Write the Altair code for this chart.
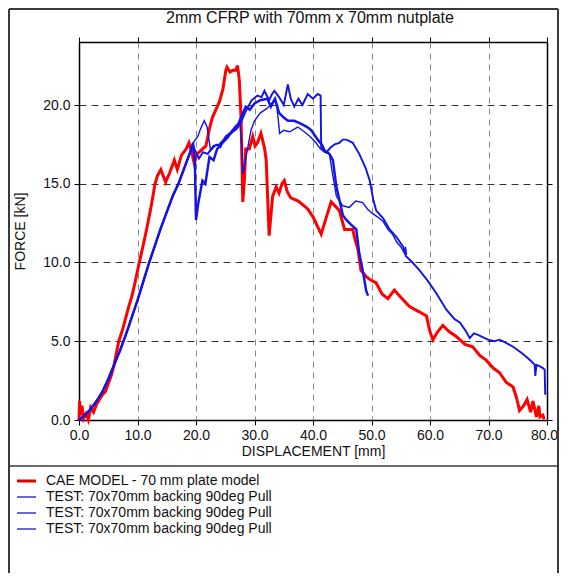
import altair as alt
import pandas as pd

# ---------------- data ----------------
cae_x = [0.0, 0.1, 0.3, 0.5, 0.8, 1.2, 1.6, 2.0, 2.5, 3.0, 3.5, 4.0, 4.5, 5.0, 5.5, 6.0, 6.8, 7.5, 8.0, 8.5,
         9.0, 9.5, 10.3, 10.8, 11.5, 12.3, 13.0, 13.4, 14.0, 14.8, 15.5, 16.3, 16.8, 17.5, 18.3, 18.8, 19.2, 19.7,
         20.2, 21.1, 21.7, 22.3, 22.8, 24.0, 24.6, 25.1, 25.3, 25.8, 26.3, 26.8, 27.1, 27.4, 27.7, 28.0, 28.3,
         28.5, 29.1, 29.7, 30.1, 30.5, 31.1, 31.7, 32.0, 32.5, 33.1, 33.7, 34.2, 34.7, 35.1, 35.6, 36.2, 37.5,
         39.1, 40.0, 41.4, 42.3, 43.1, 44.0, 44.5, 45.4, 46.8, 47.1, 47.7, 48.2, 49.1, 49.8, 50.8, 51.8, 52.8,
         53.9, 55.0, 56.5, 58.0, 59.4, 60.0, 60.5, 61.3, 62.2, 63.3, 64.5, 66.0, 67.3, 68.5, 69.6, 70.8, 71.9,
         73.0, 74.2, 74.8, 75.3, 76.0, 76.6, 77.2, 77.6, 78.2, 78.6, 78.8, 79.3, 79.5]
cae_y = [0.0, 1.2, 0.3, 0.9, 0.1, 0.4, 0.0, 0.8, 0.5, 1.0, 1.3, 1.6, 1.8, 2.3, 2.8, 3.5, 5.0, 5.8, 6.5, 7.2,
         7.8, 8.6, 10.0, 10.8, 12.0, 13.5, 15.0, 15.5, 15.9, 15.1, 15.7, 16.5, 15.9, 16.8, 17.2, 17.6, 17.1, 16.3,
         16.9, 17.2, 17.4, 18.5, 19.2, 20.2, 21.0, 22.2, 22.4, 22.1, 22.2, 22.2, 22.5, 21.6, 19.2, 13.85, 15.4,
         17.2, 17.2, 18.0, 17.4, 17.6, 18.2, 17.3, 16.5, 11.7, 14.2, 14.8, 14.4, 15.0, 15.2, 14.5, 14.1, 13.9,
         13.4, 12.9, 11.8, 12.9, 13.85, 13.5, 13.3, 12.1, 12.1, 11.6, 10.8, 9.5, 9.1, 8.9, 8.7, 8.0, 7.7,
         8.25, 7.8, 7.2, 6.9, 6.6, 5.6, 5.1, 5.6, 6.0, 5.6, 5.3, 4.8, 4.65, 4.1, 3.8, 3.3, 3.0,
         2.4, 2.1, 1.4, 0.6, 0.9, 1.3, 0.5, 1.2, 0.2, 0.9, 0.2, 0.3, 0.05]

t1_x = [0, 1, 2, 3, 4, 5, 6, 7, 8, 9, 10, 11, 12, 13, 14, 15, 16, 17, 18, 19,
        19.5, 19.8, 20.0, 20.4, 21.1, 21.6, 22.3, 23.0, 23.6, 24.5, 25.3, 26.3, 27.0, 27.7, 28.5, 29.2, 30.0,
        31.0, 32.2, 32.8, 33.5, 34.2, 35.0, 35.7, 36.8, 38.0, 39.0, 39.7, 40.8, 41.5, 42.0, 42.8, 43.4, 44.0,
        44.5, 45.1, 45.7, 46.5, 47.4, 47.9, 48.5, 49.1, 49.4]
t1_y = [0, 0.3, 0.7, 1.2, 1.8, 2.6, 3.5, 4.4, 5.4, 6.5, 7.6, 8.8, 10.0, 11.1, 12.2, 13.2, 14.2, 15.0, 16.0, 17.0,
        17.6, 16.5, 12.7, 13.8, 15.2, 15.0, 16.7, 16.5, 17.2, 17.6, 17.9, 18.4, 18.6, 19.2, 19.9, 19.7, 20.1,
        20.3, 20.4, 19.9, 20.4, 19.5, 19.2, 19.0, 19.0, 18.8, 18.6, 18.4, 17.8, 17.5, 17.1, 16.9, 16.5, 14.8,
        14.0, 13.0, 12.7, 12.4, 12.1, 10.6, 9.5, 8.2, 7.9]

t2_x = [0, 1, 2, 3, 4, 5, 6, 7, 8, 9, 10, 11, 12, 13, 14, 15, 16, 17, 18, 19,
        19.5, 20.5, 21.2, 22.0, 23.0, 24.0, 25.0, 26.0, 27.0, 27.7, 28.5, 29.5, 30.5, 31.2, 31.7, 32.5, 33.0,
        33.4, 34.2, 35.0, 35.7, 36.2, 36.8, 37.5, 38.2, 39.1, 40.0, 40.8, 41.3, 41.4, 42.3, 43.0, 43.7, 44.5,
        45.1, 45.7, 46.8, 47.9, 49.0, 49.7, 50.3, 50.8, 52.0, 53.1, 54.3, 55.4, 55.9, 57.0, 58.0, 59.5, 61.0,
        62.8, 64.2, 65.1, 66.2, 66.8, 67.5, 68.2, 69.9, 71.0, 71.9, 73.0, 74.2, 75.5, 76.5, 77.4, 77.9, 78.0,
        78.2, 78.8, 79.3, 79.6, 79.7]
t2_y = [0, 0.3, 0.7, 1.2, 1.8, 2.6, 3.5, 4.4, 5.4, 6.5, 7.6, 8.8, 10.0, 11.1, 12.2, 13.2, 14.2, 15.0, 16.0, 17.0,
        17.4, 16.6, 17.0, 16.9, 17.4, 17.5, 17.9, 18.2, 18.5, 18.9, 19.6, 20.3, 20.6, 20.5, 20.9, 20.3, 20.7,
        20.9, 20.5, 20.0, 21.3, 20.4, 19.9, 20.4, 20.0, 20.7, 20.4, 20.7, 20.6, 17.3, 17.0, 17.3, 17.5, 17.6,
        17.8, 17.8, 17.6, 16.9, 16.0, 15.2, 14.0, 13.3, 12.8, 12.1, 11.6, 11.0, 10.4, 10.0, 9.6, 8.9, 8.1,
        7.0, 6.4, 6.2, 5.6, 5.2, 5.5, 5.4, 5.1, 5.0, 5.1, 4.9, 4.65, 4.3, 4.0, 3.7, 3.5, 2.8,
        3.5, 3.4, 3.3, 3.2, 1.6]

t3_x = [0, 1, 2, 3, 4, 5, 6, 7, 8, 9, 10, 11, 12, 13, 14, 15, 16, 17, 18, 19,
        19.5, 20.3, 20.8, 21.4, 21.9, 22.5, 23.5, 24.2, 25.0, 26.0, 26.8, 27.5, 27.8, 28.0, 28.6, 29.4, 30.0,
        31.0, 32.2, 33.4, 33.8, 34.3, 35.0, 36.0, 37.4, 38.5, 39.5, 40.5, 41.3, 42.0, 42.8, 43.4, 44.0, 45.1,
        46.2, 47.3, 48.5, 49.3, 50.2, 51.0, 52.0, 52.8, 53.6, 54.3, 55.0, 55.6, 55.8, 56.0]
t3_y = [0, 0.3, 0.7, 1.2, 1.8, 2.6, 3.5, 4.4, 5.4, 6.5, 7.6, 8.8, 10.0, 11.1, 12.2, 13.2, 14.2, 15.0, 16.0, 17.0,
        17.6, 18.0, 18.5, 19.0, 18.6, 17.1, 17.5, 17.3, 18.0, 18.3, 18.7, 18.9, 17.5, 15.6, 16.8, 18.4, 19.0,
        19.5, 19.8, 20.3, 20.0, 18.2, 18.4, 18.3, 18.6, 18.3, 18.0, 17.6, 17.2, 17.0, 16.9, 15.5, 14.2, 13.6,
        13.5, 13.9, 13.8, 13.4, 13.1, 12.9, 12.6, 12.1, 11.8, 11.3, 11.0, 10.6, 11.0, 10.5]

series_ids = ["CAE", "T1", "T2", "T3"]
series_labels = ["CAE MODEL - 70 mm plate model",
                 "TEST: 70x70mm backing 90deg Pull",
                 "TEST: 70x70mm backing 90deg Pull",
                 "TEST: 70x70mm backing 90deg Pull"]
series_colors = ["#ff0000", "#1414e6", "#1414e6", "#1414e6"]
legend_colors = ["#e00000", "#2a2ab8", "#2a2ab8", "#2a2ab8"]
series_widths = [3.0, 1.4, 1.4, 1.4]

chart_title = "2mm CFRP with 70mm x 70mm nutplate"
x_title = "DISPLACEMENT [mm]"
y_title = "FORCE [kN]"
x_ticks = [0, 10, 20, 30, 40, 50, 60, 70, 80]
y_ticks = [0, 5, 10, 15, 20]

# ---------------- build table ----------------
rows = []
for sid, xs, ys in zip(series_ids, [cae_x, t1_x, t2_x, t3_x], [cae_y, t1_y, t2_y, t3_y]):
    for i, (xv, yv) in enumerate(zip(xs, ys)):
        rows.append({"series": sid, "i": i, "x": xv, "y": yv})
df = pd.DataFrame(rows)

FONT = "Liberation Sans"
FS = 14
W, H = 468, 378

xscale = alt.Scale(domain=[0, 80], nice=False, zero=False)
yscale = alt.Scale(domain=[0, 24], nice=False, zero=False)

base = alt.Chart(df)

# nudge the last x label left so it stays inside the page
x_label_offset = {"condition": {"test": "datum.value >= 80", "value": -3}, "value": 0}

lines = base.mark_line(strokeCap="butt", strokeJoin="miter").encode(
    x=alt.X("x:Q", scale=xscale,
            axis=alt.Axis(values=x_ticks, format=".1f", title=x_title, labelFlush=False,
                          labelOffset=x_label_offset,
                          grid=True, gridDash=[6, 5], gridColor="#8a8a8a", gridWidth=1,
                          tickSize=5, tickColor="black", domainColor="black", domainWidth=1.5,
                          labelFontSize=FS, labelColor="#111", labelPadding=3,
                          titleFontSize=FS, titleFontWeight="normal", titleColor="#111",
                          titlePadding=2, labelFont=FONT, titleFont=FONT)),
    y=alt.Y("y:Q", scale=yscale,
            axis=alt.Axis(values=y_ticks, format=".1f", title=y_title, labelFlush=False,
                          grid=True, gridDash=[7, 5], gridColor="#333333", gridWidth=1,
                          tickSize=5, tickColor="black", domainColor="black", domainWidth=1.5,
                          labelFontSize=FS, labelColor="#111", labelPadding=4,
                          titleFontSize=FS, titleFontWeight="normal", titleColor="#111",
                          titlePadding=15, labelFont=FONT, titleFont=FONT)),
    color=alt.Color("series:N", scale=alt.Scale(domain=series_ids, range=series_colors), legend=None),
    strokeWidth=alt.StrokeWidth("series:N", scale=alt.Scale(domain=series_ids, range=series_widths),
                                legend=None),
    order="i:Q",
    detail="series:N",
)

# top / right axes with ticks only
mirror = base.mark_line(opacity=0).encode(
    x=alt.X("x:Q", scale=xscale,
            axis=alt.Axis(orient="top", values=x_ticks, labels=False, title=None, grid=False,
                          tickSize=5, tickColor="black", domainColor="black", domainWidth=1.5)),
    y=alt.Y("y:Q", scale=yscale,
            axis=alt.Axis(orient="right", values=y_ticks, labels=False, title=None, grid=False,
                          tickSize=5, tickColor="black", domainColor="black", domainWidth=1.5)),
    detail="series:N",
)

# outer window frame and legend separator
one = alt.Chart(pd.DataFrame({"k": [0]}))
frame_color = "#3a3a3a"
f_left = one.mark_rule(color=frame_color, strokeWidth=2).encode(
    x=alt.value(-70), y=alt.value(-33), y2=alt.value(560))
f_right = one.mark_rule(color=frame_color, strokeWidth=2).encode(
    x=alt.value(479), y=alt.value(-33), y2=alt.value(560))
f_top = one.mark_rule(color=frame_color, strokeWidth=2).encode(
    x=alt.value(-70), x2=alt.value(479), y=alt.value(-33))
f_sep = one.mark_rule(color=frame_color, strokeWidth=1.5).encode(
    x=alt.value(-70), x2=alt.value(479), y=alt.value(424))

title_mark = one.mark_text(font=FONT, fontSize=16, color="#111", align="center",
                           baseline="middle").encode(
    x=alt.value(W / 2 - 3), y=alt.value(-24), text=alt.value(chart_title))

# legend below the plot
legend_layers = []
for k, (lab, col, wd) in enumerate(zip(series_labels, legend_colors, series_widths)):
    ry = 439 + 16 * k
    legend_layers.append(one.mark_rule(color=col, strokeWidth=wd).encode(
        x=alt.value(-62), x2=alt.value(-43), y=alt.value(ry)))
    legend_layers.append(one.mark_text(font=FONT, fontSize=FS, color="#111", align="left",
                                       baseline="middle").encode(
        x=alt.value(-33), y=alt.value(ry), text=alt.value(lab)))

chart = alt.layer(lines, mirror, f_left, f_right, f_top, f_sep, title_mark, *legend_layers).resolve_axis(
    x="independent", y="independent"
).properties(
    width=W,
    height=H,
    padding={"left": 71, "top": 34, "right": 12, "bottom": 153},
    autosize=alt.AutoSizeParams(type="none"),
).configure_view(
    stroke="black", strokeWidth=1.5
).configure(font=FONT, background="white")

chart.save("out.html", embed_options={"renderer": "svg", "actions": False})
